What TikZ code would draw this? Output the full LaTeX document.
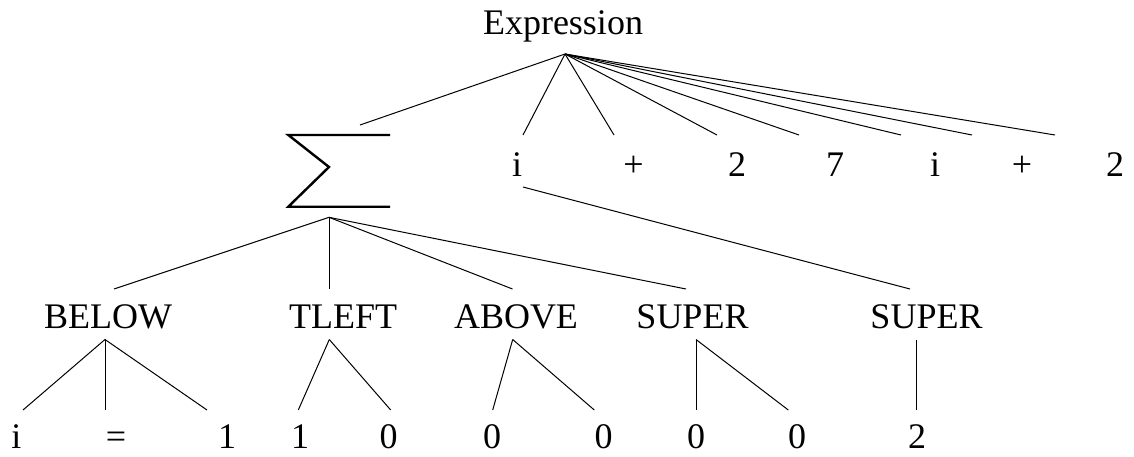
\documentclass[tikz,border=0pt]{standalone}
\usepackage{fontspec}
\setmainfont{Liberation Serif}
\begin{document}
\begin{tikzpicture}[x=1pt,y=-1pt,
  lbl/.style={anchor=base,inner sep=0pt,font=\fontsize{36}{40}\selectfont},
  blbl/.style={lbl,text depth=0pt},
  edge/.style={line width=1pt},
  sig/.style={line width=2.4pt,line join=miter}]
\useasboundingbox (0,0) rectangle (1134,456);
% labels
\node[lbl] (expr) at (563,34) {Expression};
\node[lbl] (li1) at (517,176) {i};
\node[lbl] (lp1) at (633.5,176) {+};
\node[lbl] (l21) at (737,176) {2};
\node[lbl] (l7) at (835,176) {7};
\node[lbl] (li2) at (935,176) {i};
\node[lbl] (lp2) at (1022,176) {+};
\node[lbl] (l22) at (1115,176) {2};
\node[lbl] (below) at (108,328.5) {BELOW};
\node[lbl] (tleft) at (343,328.5) {TLEFT};
\node[lbl] (above) at (516,328.5) {ABOVE};
\node[lbl] (super1) at (692.5,328.5) {SUPER};
\node[lbl] (super2) at (926.5,328.5) {SUPER};
\node[blbl] (bi) at (16.5,448) {i};
\node[blbl] (beq) at (116,448) {=};
\node[blbl] (b1a) at (227,448) {1};
\node[blbl] (b1b) at (300,448) {1};
\node[blbl] (b0a) at (388.5,448) {0};
\node[blbl] (b0b) at (492,448) {0};
\node[blbl] (b0c) at (603.5,448) {0};
\node[blbl] (b0d) at (696,448) {0};
\node[blbl] (b0e) at (797,448) {0};
\node[blbl] (b2) at (917,448) {2};
% sigma symbol
\coordinate (sTR) at (390,135);
\coordinate (sTL) at (288.3,135);
\coordinate (sM) at (329,167);
\coordinate (sBL) at (288.3,206.7);
\coordinate (sBR) at (390,206.7);
\draw[sig] (sTR) -- (sTL) -- (sM) -- (sBL) -- (sBR);
% attach points
\coordinate (exprB) at (565,54);
\coordinate (sigT) at (360,125);
\coordinate (li1T) at (523,135);
\coordinate (lp1T) at (614,135);
\coordinate (l21T) at (717,135);
\coordinate (l7T) at (799,135);
\coordinate (li2T) at (901,135);
\coordinate (lp2T) at (972,135);
\coordinate (l22T) at (1055,135);
\coordinate (sigB) at (329,217.3);
\coordinate (li1B) at (523,187);
\coordinate (belowT) at (114,289);
\coordinate (tleftT) at (329,289);
\coordinate (aboveT) at (512.5,289);
\coordinate (super1T) at (686,289);
\coordinate (super2T) at (910,289);
\coordinate (belowB) at (105,339.5);
\coordinate (tleftB) at (329.3,339.5);
\coordinate (aboveB) at (512.7,339.5);
\coordinate (super1B) at (696,339.5);
\coordinate (super2B) at (916.7,339.5);
\coordinate (biT) at (23,410);
\coordinate (beqT) at (105,410);
\coordinate (b1aT) at (207,410);
\coordinate (b1bT) at (298.3,410);
\coordinate (b0aT) at (390.7,410);
\coordinate (b0bT) at (492.7,410);
\coordinate (b0cT) at (594.3,410);
\coordinate (b0dT) at (696,410);
\coordinate (b0eT) at (788.3,410);
\coordinate (b2T) at (916.7,410);
% edges
\draw[edge] (exprB) -- (sigT);
\foreach \t in {li1T,lp1T,l21T,l7T,li2T,lp2T,l22T} \draw[edge] (exprB) -- (\t);
\foreach \t in {belowT,tleftT,aboveT,super1T} \draw[edge] (sigB) -- (\t);
\draw[edge] (li1B) -- (super2T);
\foreach \t in {biT,beqT,b1aT} \draw[edge] (belowB) -- (\t);
\foreach \t in {b1bT,b0aT} \draw[edge] (tleftB) -- (\t);
\foreach \t in {b0bT,b0cT} \draw[edge] (aboveB) -- (\t);
\foreach \t in {b0dT,b0eT} \draw[edge] (super1B) -- (\t);
\draw[edge] (super2B) -- (b2T);
\end{tikzpicture}
\end{document}
